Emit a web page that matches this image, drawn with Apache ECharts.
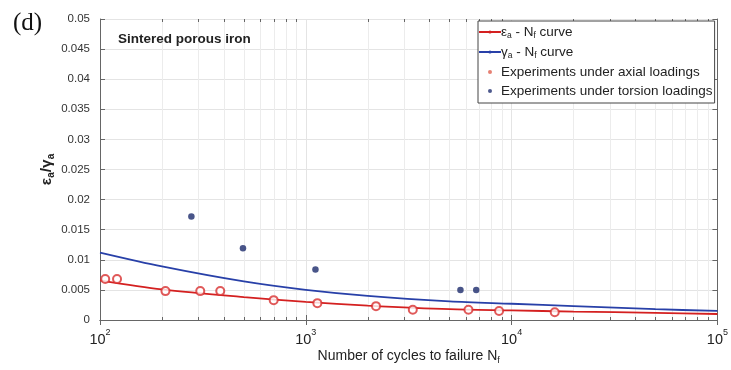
<!DOCTYPE html>
<html>
<head>
<meta charset="utf-8">
<script src="https://cdn.jsdelivr.net/npm/echarts@6/dist/echarts.min.js"></script>
<style>
  html, body { margin: 0; padding: 0; background: #fff; }
  #chart { width: 731px; height: 370px; }
</style>
</head>
<body>
<div id="chart"></div>
<script>
// Axial experiments: cycles to failure and strain amplitude
const axialN   = [106, 121, 208, 307, 384, 698, 1138, 2193, 3310, 6170, 8690, 16200];
const axialAmp = [0.0068, 0.0068, 0.0048, 0.0048, 0.0048, 0.0033, 0.0028, 0.0023, 0.0017, 0.0017, 0.0015, 0.0013];

// Torsion experiments: cycles to failure and shear strain amplitude
const torsionN   = [278, 495, 1114, 5640, 6730];
const torsionAmp = [0.0172, 0.0119, 0.0084, 0.0050, 0.0050];

// Fitted life curves, sampled along N
const curveN      = [100, 200, 500, 1000, 2000, 5000, 10000, 20000, 50000, 100000];
const strainCurve = [0.0066, 0.0051, 0.0038, 0.0030, 0.0024, 0.0018, 0.0016, 0.0014, 0.0012, 0.0010];
const shearCurve  = [0.0112, 0.0089, 0.0064, 0.0050, 0.0040, 0.0031, 0.0027, 0.0023, 0.0018, 0.0015];

// Axis ranges
const nRange   = [100, 100000];
const ampRange = [0, 0.05];
const ampStep  = 0.005;

// Legend names
const names = ['εa - Nf curve', 'γa - Nf curve', 'Experiments under axial loadings', 'Experiments under torsion loadings'];
const legendRich = {
  [names[0]]: '{n|ε}{s|a}{n| - N}{s|f}{n| curve}',
  [names[1]]: '{n|γ}{s|a}{n| - N}{s|f}{n| curve}',
  [names[2]]: '{n|Experiments under axial loadings}',
  [names[3]]: '{n|Experiments under torsion loadings}'
};

const FONT = 'Liberation Sans, Arial, sans-serif';
const AXIS_COLOR = '#666';
const TEXT_COLOR = '#222';

// Minor log-decade positions (2..9 within each decade)
const minorN = [];
for (let d = nRange[0]; d < nRange[1]; d *= 10) {
  for (let k = 2; k <= 9; k++) minorN.push(d * k);
}

const zip = (xs, ys) => xs.map((x, i) => [x, ys[i]]);

const minorGrid = minorN.map(v => ({ xAxis: v }));
const tickLen = 0.0005;
const minorTicks = [];
minorN.forEach(v => {
  minorTicks.push([{ coord: [v, ampRange[0]] }, { coord: [v, ampRange[0] + tickLen] }]);
  minorTicks.push([{ coord: [v, ampRange[1]] }, { coord: [v, ampRange[1] - tickLen] }]);
});

const supLabel = (v) => '{b|10}{p|' + Math.round(Math.log10(v)) + '}';

const chart = echarts.init(document.getElementById('chart'), null, { renderer: 'canvas' });

chart.setOption({
  backgroundColor: '#fff',
  animation: false,
  textStyle: { fontFamily: FONT },
  title: [{
    text: '(d)',
    left: 8, top: 6,
    textStyle: { fontFamily: 'Liberation Serif, Times New Roman, serif', fontSize: 25, fontWeight: 'normal', color: '#111' }
  }],
  graphic: [{
    type: 'text',
    left: 118, top: 32,
    z: 100,
    style: { text: 'Sintered porous iron', font: 'bold 13.5px ' + FONT, fill: TEXT_COLOR }
  }],
  grid: { left: 100, right: 9, top: 19, bottom: 48, containLabel: false },
  legend: {
    data: [
      { name: names[0] },
      { name: names[1] },
      { name: names[2], icon: 'circle', itemStyle: { color: '#e06050', borderWidth: 0 } },
      { name: names[3], icon: 'circle', itemStyle: { color: '#203070', borderWidth: 0 } }
    ],
    orient: 'vertical',
    left: 478, top: 21,
    itemWidth: 22, itemHeight: 4,
    itemGap: 5,
    padding: [4, 2, 5, 0],
    backgroundColor: '#fff',
    borderColor: '#444',
    borderWidth: 1,
    borderRadius: 0,
    align: 'left',
    selectedMode: false,
    z: 20,
    formatter: (name) => legendRich[name],
    textStyle: {
      padding: [0, 0, 0, -5],
      rich: {
        n: { fontFamily: FONT, fontSize: 13.5, color: TEXT_COLOR, lineHeight: 16 },
        s: { fontFamily: FONT, fontSize: 8.5, color: TEXT_COLOR, verticalAlign: 'bottom', lineHeight: 12 }
      }
    }
  },
  xAxis: [{
    type: 'log', logBase: 10,
    min: nRange[0], max: nRange[1],
    name: '{n|Number of cycles to failure N}{s|f}',
    nameLocation: 'middle', nameGap: 28,
    nameMoveOverlap: false,
    nameTextStyle: {
      rich: {
        n: { fontFamily: FONT, fontSize: 14, color: TEXT_COLOR, lineHeight: 17 },
        s: { fontFamily: FONT, fontSize: 9, color: TEXT_COLOR, verticalAlign: 'bottom', lineHeight: 13 }
      }
    },
    axisLine: { show: true, lineStyle: { color: AXIS_COLOR, width: 1 } },
    axisTick: { show: true, inside: true, length: 5, lineStyle: { color: AXIS_COLOR } },
    axisLabel: {
      margin: 8,
      formatter: supLabel,
      rich: {
        b: { fontFamily: FONT, fontSize: 14.5, color: TEXT_COLOR, lineHeight: 19, verticalAlign: 'bottom' },
        p: { fontFamily: FONT, fontSize: 9, color: TEXT_COLOR, verticalAlign: 'top', lineHeight: 10 }
      }
    },
    splitLine: { show: true, lineStyle: { color: '#e4e4e4', width: 1 } }
  }, {
    type: 'log', logBase: 10,
    min: nRange[0], max: nRange[1],
    position: 'top',
    axisLine: { show: true, lineStyle: { color: AXIS_COLOR, width: 1 } },
    axisTick: { show: true, inside: true, length: 5, lineStyle: { color: AXIS_COLOR } },
    axisLabel: { show: false },
    splitLine: { show: false }
  }],
  yAxis: [{
    type: 'value',
    min: ampRange[0], max: ampRange[1], interval: ampStep,
    name: '{n|ε}{s|a}{n|/γ}{s|a}',
    nameLocation: 'middle', nameRotate: 90, nameGap: 44,
    nameMoveOverlap: false,
    nameTextStyle: {
      rich: {
        n: { fontFamily: FONT, fontSize: 15.5, color: TEXT_COLOR, fontWeight: 'bold', lineHeight: 18 },
        s: { fontFamily: FONT, fontSize: 10, color: TEXT_COLOR, fontWeight: 'bold', verticalAlign: 'bottom', lineHeight: 13 }
      }
    },
    axisLine: { show: true, lineStyle: { color: AXIS_COLOR, width: 1 } },
    axisTick: { show: true, inside: true, length: 5, lineStyle: { color: AXIS_COLOR } },
    axisLabel: {
      margin: 10,
      fontFamily: FONT, fontSize: 11.5, color: '#333',
      formatter: (v) => String(+v.toFixed(4))
    },
    splitLine: { show: true, lineStyle: { color: '#e4e4e4', width: 1 } }
  }, {
    type: 'value',
    min: ampRange[0], max: ampRange[1], interval: ampStep,
    position: 'right',
    axisLine: { show: true, lineStyle: { color: AXIS_COLOR, width: 1 } },
    axisTick: { show: true, inside: true, length: 5, lineStyle: { color: AXIS_COLOR } },
    axisLabel: { show: false },
    splitLine: { show: false }
  }],
  series: [
    {
      // minor decade grid and ticks
      name: 'minor',
      type: 'line',
      data: [],
      silent: true,
      z: 1,
      markLine: {
        silent: true,
        symbol: 'none',
        animation: false,
        z: 1,
        label: { show: false },
        emphasis: { disabled: true },
        data: [
          ...minorGrid.map(d => ({ ...d, lineStyle: { color: '#ececec', width: 1, type: 'solid' } })),
          ...minorTicks.map(p => [{ ...p[0], lineStyle: { color: AXIS_COLOR, width: 1, type: 'solid' } }, p[1]])
        ]
      }
    },
    {
      name: names[0],
      type: 'line',
      data: zip(curveN, strainCurve),
      smooth: 0.3,
      symbol: 'none',
      z: 3,
      lineStyle: { color: '#d42020', width: 1.8 },
      itemStyle: { color: '#d42020' }
    },
    {
      name: names[1],
      type: 'line',
      data: zip(curveN, shearCurve),
      smooth: 0.3,
      symbol: 'none',
      z: 3,
      lineStyle: { color: '#2840a8', width: 1.8 },
      itemStyle: { color: '#2840a8' }
    },
    {
      name: names[2],
      type: 'scatter',
      data: zip(axialN, axialAmp),
      symbol: 'emptyCircle',
      symbolSize: 8,
      z: 4,
      itemStyle: { color: '#d83030', borderColor: '#d83030', borderWidth: 1.5 }
    },
    {
      name: names[3],
      type: 'scatter',
      data: zip(torsionN, torsionAmp),
      symbol: 'circle',
      symbolSize: 6.5,
      z: 4,
      itemStyle: { color: '#1c2a6c' }
    }
  ]
});
</script>
</body>
</html>
